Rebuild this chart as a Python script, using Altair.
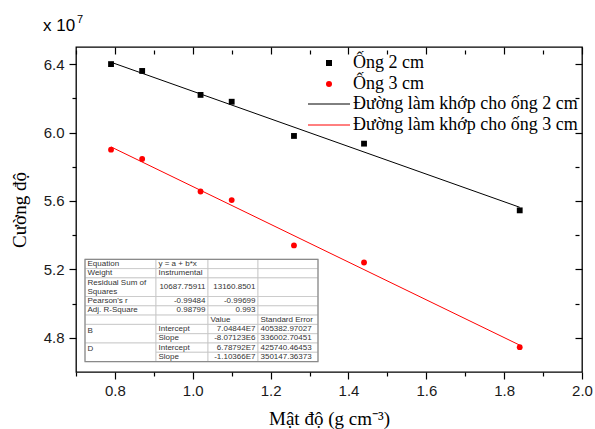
import altair as alt
import pandas as pd

# ---------------- data ----------------
density = [0.79, 0.87, 1.02, 1.10, 1.26, 1.44, 1.84]
intensity_2cm = [6.40, 6.36, 6.22, 6.18, 5.98, 5.935, 5.545]   # x 10^7
intensity_3cm = [5.90, 5.845, 5.655, 5.605, 5.34, 5.24, 4.745]  # x 10^7
series_names = ["Ống 2 cm", "Ống 3 cm"]
fit_names = ["Đường làm khớp cho ống 2 cm", "Đường làm khớp cho ống 3 cm"]
fit_x = [0.79, 1.84]
fit_2cm = [6.411, 5.563]
fit_3cm = [5.916, 4.757]
x_ticks = [0.7, 0.8, 0.9, 1.0, 1.1, 1.2, 1.3, 1.4, 1.5, 1.6, 1.7, 1.8, 1.9, 2.0]
y_ticks = [4.8, 5.0, 5.2, 5.4, 5.6, 5.8, 6.0, 6.2, 6.4]

table_text = [
    ["Equation", "y = a + b*x", "", ""],
    ["Weight", "Instrumental", "", ""],
    ["Residual Sum of\nSquares", "10687.75911", "13160.8501", ""],
    ["Pearson's r", "-0.99484", "-0.99699", ""],
    ["Adj. R-Square", "0.98799", "0.993", ""],
    ["", "", "Value", "Standard Error"],
    ["B", "Intercept", "7.04844E7", "405382.97027"],
    ["", "Slope", "-8.07123E6", "336002.70451"],
    ["D", "Intercept", "6.78792E7", "425740.46453"],
    ["", "Slope", "-1.10366E7", "350147.36373"],
]

# ---------------- layout / style ----------------
W, H = 506, 325
table_align = ["llll", "llll", "lrrl", "lrrl", "lrrl", "llll",
               "llrl", "llrl", "llrl", "llrl"]
TAB_LEFT, TAB_TOP = 9, 212.3
col_w = [71, 52, 50, 60]
unit_h = 9.3
row_units = [1, 1, 2, 1, 1, 1, 1, 1, 1, 1]
merged_first = (6, 8)
merged_skip = (7, 9)

col_edges = [TAB_LEFT]
for w in col_w:
    col_edges.append(col_edges[-1] + w)
row_edges = [TAB_TOP]
for u in row_units:
    row_edges.append(row_edges[-1] + u * unit_h)

rects, texts = [], []
for r in range(len(table_text)):
    for c in range(4):
        if c == 0 and r in merged_skip:
            continue
        bottom = row_edges[r + 2] if (c == 0 and r in merged_first) else row_edges[r + 1]
        rects.append(dict(x0=col_edges[c], x1=col_edges[c + 1], y0=row_edges[r], y1=bottom))
        s = table_text[r][c]
        if not s:
            continue
        lines = s.split("\n")
        a = table_align[r][c]
        for i, ln in enumerate(lines):
            cy = row_edges[r] + (bottom - row_edges[r]) * (i + 0.5) / len(lines)
            if c == 0 and r in merged_first:
                cy -= 3
            tx = col_edges[c] + 2.5 if a == "l" else col_edges[c + 1] - 2.5
            texts.append(dict(tx=tx, ty=cy, t=ln, a=a))
df_rects = pd.DataFrame(rects)
df_texts = pd.DataFrame(texts)
df_border = pd.DataFrame([dict(x0=col_edges[0], x1=col_edges[-1], y0=row_edges[0], y1=row_edges[-1])])

df_pts = pd.DataFrame({
    "x": density + density,
    "y": intensity_2cm + intensity_3cm,
    "series": [series_names[0]] * len(density) + [series_names[1]] * len(density),
})
df_fit = pd.DataFrame({
    "x": fit_x + fit_x,
    "y": fit_2cm + fit_3cm,
    "fit": [fit_names[0]] * 2 + [fit_names[1]] * 2,
})

xs = alt.Scale(domain=[0.7, 2.0], nice=False, zero=False)
ys = alt.Scale(domain=[4.6, 6.5], nice=False, zero=False)

AX_FONT = "Liberation Sans"
SERIF = "Liberation Serif"
x_major = "round(datum.value*10) % 2 == 0"
y_major = "round(datum.value*10) % 4 == 0"

bottom_axis = alt.Axis(
    orient="bottom", values=x_ticks, domain=False, grid=False,
    tickColor="black", tickWidth=1.2,
    tickSize={"condition": {"test": x_major, "value": 7}, "value": 4},
    labelExpr=f"{x_major} ? format(datum.value, '.1f') : ''",
    labelFont=AX_FONT, labelFontSize=15, labelColor="#1a1a1a", labelPadding=4,
    labelFlush=False,
    title="Mật độ (g cm⁻³)", titleFont=SERIF, titleFontSize=19,
    titleFontWeight="normal", titleColor="black", titlePadding=11,
)
left_axis = alt.Axis(
    orient="left", values=y_ticks, domain=False, grid=False,
    tickColor="black", tickWidth=1.2,
    tickSize={"condition": {"test": y_major, "value": 7}, "value": 4},
    labelExpr=f"{y_major} ? format(datum.value, '.1f') : ''",
    labelFont=AX_FONT, labelFontSize=15, labelColor="#1a1a1a", labelPadding=5,
    labelFlush=False,
    title="Cường độ", titleFont=SERIF, titleFontSize=19,
    titleFontWeight="normal", titleColor="black", titlePadding=14,
)
top_axis = alt.Axis(
    orient="top", values=x_ticks, domain=False, grid=False, labels=False,
    tickColor="black", tickWidth=1.2, offset=-7,
    tickSize={"condition": {"test": x_major, "value": 7}, "value": 4},
    title=None,
)
right_axis = alt.Axis(
    orient="right", values=y_ticks, domain=False, grid=False, labels=False,
    tickColor="black", tickWidth=1.2, offset=-7,
    tickSize={"condition": {"test": y_major, "value": 7}, "value": 4},
    title=None,
)

pt_legend = alt.Legend(
    orient="none", legendX=244, legendY=7, title=None, padding=0,
    labelFont=SERIF, labelFontSize=18, labelColor="black", labelLimit=400,
    labelOffset=15, rowPadding=3, symbolSize=36, symbolStrokeWidth=0,
)
fit_legend = alt.Legend(
    orient="none", legendX=244, legendY=48, title=None, padding=0,
    labelFont=SERIF, labelFontSize=18, labelColor="black", labelLimit=400,
    labelOffset=15, rowPadding=3, symbolType="M-7,0H7", symbolSize=36,
    symbolStrokeWidth=1,
)

fits = alt.Chart(df_fit).mark_line(strokeWidth=1).encode(
    x=alt.X("x:Q", scale=xs, axis=None),
    y=alt.Y("y:Q", scale=ys, axis=None),
    color=alt.Color("fit:N", scale=alt.Scale(domain=fit_names, range=["black", "red"]),
                    legend=fit_legend),
    detail="fit:N",
)

points = alt.Chart(df_pts).mark_point(filled=True, opacity=1, size=34).encode(
    x=alt.X("x:Q", scale=xs, axis=bottom_axis),
    y=alt.Y("y:Q", scale=ys, axis=left_axis),
    color=alt.Color("series:N", scale=alt.Scale(domain=series_names, range=["black", "red"]),
                    legend=pt_legend),
    shape=alt.Shape("series:N", scale=alt.Scale(domain=series_names, range=["square", "circle"]),
                    legend=pt_legend),
)

frame_axes = alt.Chart(df_pts).mark_point(opacity=0).encode(
    x=alt.X("x:Q", scale=xs, axis=top_axis),
    y=alt.Y("y:Q", scale=ys, axis=right_axis),
)

tx_scale = alt.Scale(domain=[0, W], range=[0, W], nice=False, zero=False)
ty_scale = alt.Scale(domain=[0, H], range=[0, H], nice=False, zero=False)

tab_cells = alt.Chart(df_rects).mark_rect(fill="white", stroke="#c4c4c4", strokeWidth=0.8).encode(
    x=alt.X("x0:Q", scale=tx_scale, axis=None), x2="x1:Q",
    y=alt.Y("y0:Q", scale=ty_scale, axis=None), y2="y1:Q",
)
tab_border = alt.Chart(df_border).mark_rect(fill=None, stroke="#8a8a8a", strokeWidth=1.2).encode(
    x=alt.X("x0:Q", scale=tx_scale, axis=None), x2="x1:Q",
    y=alt.Y("y0:Q", scale=ty_scale, axis=None), y2="y1:Q",
)
tab_text_l = alt.Chart(df_texts).transform_filter(alt.datum.a == "l").mark_text(
    align="left", baseline="middle", font=AX_FONT, fontSize=8, color="#333333",
).encode(
    x=alt.X("tx:Q", scale=tx_scale, axis=None),
    y=alt.Y("ty:Q", scale=ty_scale, axis=None),
    text="t:N",
)
tab_text_r = alt.Chart(df_texts).transform_filter(alt.datum.a == "r").mark_text(
    align="right", baseline="middle", font=AX_FONT, fontSize=8, color="#333333",
).encode(
    x=alt.X("tx:Q", scale=tx_scale, axis=None),
    y=alt.Y("ty:Q", scale=ty_scale, axis=None),
    text="t:N",
)

mult = alt.Chart(pd.DataFrame({"t": ["x 10"]})).mark_text(
    align="left", baseline="alphabetic", font=AX_FONT, fontSize=17, color="black",
).encode(x=alt.value(-33), y=alt.value(-16), text="t:N")
mult_exp = alt.Chart(pd.DataFrame({"t": ["7"]})).mark_text(
    align="left", baseline="alphabetic", font=AX_FONT, fontSize=11, color="black",
).encode(x=alt.value(1), y=alt.value(-24), text="t:N")

chart = alt.layer(
    fits, points, frame_axes, tab_cells, tab_border, tab_text_l, tab_text_r, mult, mult_exp
).resolve_scale(
    x="independent", y="independent", color="independent", shape="independent"
).resolve_axis(
    x="independent", y="independent"
).properties(
    width=W, height=H,
    autosize=alt.AutoSizeParams(type="none"),
    padding={"left": 76, "top": 47, "right": 13, "bottom": 57},
    background="white",
).configure_view(stroke="black", strokeWidth=1.3)

chart.save("out.html", embed_options={"renderer": "svg", "actions": False})
